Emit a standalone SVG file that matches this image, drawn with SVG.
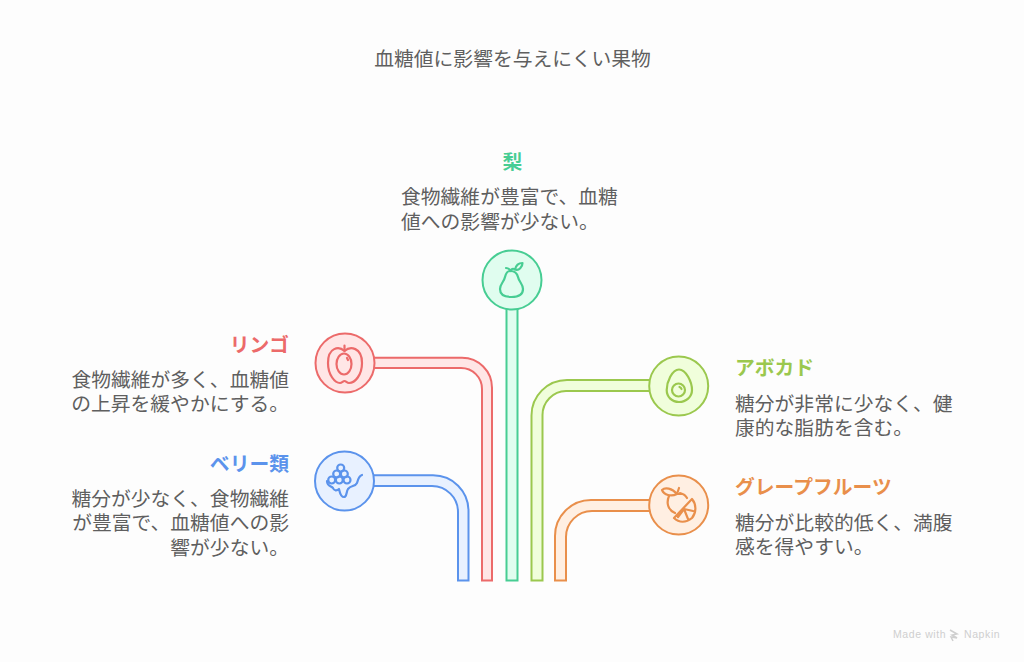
<svg xmlns="http://www.w3.org/2000/svg" width="1024" height="662" viewBox="0 0 1024 662">
<style>
text{font-family:"Noto Sans CJK JP","Noto Sans CJK SC",sans-serif;font-size:19.8px;fill:#5f5f5f}
.t{font-weight:700}
.e{text-anchor:end}
.tube,.dot{stroke-width:2}
.ic{fill:none;stroke-width:2.2;stroke-linecap:round;stroke-linejoin:round}
.red{fill:#ffe6e6;stroke:#ec6a6a}.blue{fill:#e8f1ff;stroke:#5b93ec}.green{fill:#e0fdef;stroke:#47cd93}.lime{fill:#f0fedb;stroke:#9bc84e}.orange{fill:#ffefe2;stroke:#e98f4b}
</style>
<rect width="1024" height="662" fill="#fdfdfd"/>
<text x="512.500" y="66" text-anchor="middle">血糖値に影響を与えにくい果物</text>
<g id="connectors">
<path class="tube red" d="M372 357.700H462A30 30 0 0 1 492 387.700V580.500H482V389A21 21 0 0 0 461 368H372Z"/>
<path class="tube blue" d="M372 475.300H433A35.500 35.500 0 0 1 468.500 510.800V580.500H458V512A26 26 0 0 0 432 486H372Z"/>
<path class="tube green" d="M506.500 305H517.500V580.500H506.500Z"/>
<path class="tube lime" d="M651 380H567A35.500 35.500 0 0 0 531.500 415.500V580.500H542.500V415A24 24 0 0 1 566 391H651Z"/>
<path class="tube orange" d="M651 500H591A36 36 0 0 0 555 536V580.500H566V537A26 26 0 0 1 592 511H651Z"/>
</g>
<g id="node-pear">
<circle class="dot green" cx="512" cy="280" r="29.500"/>
<g class="ic" stroke="#47cd93">
<path d="M510.500 271C507 271 506 273 505 277C504 282 500 284 500 289C500 295 505 297 511.500 297C518 297 523 295 523 289C523 284 519 282 518 277C517 273 514 271 510.500 271Z"/>
<path d="M510.500 271C509.500 269 508 268 506 268M510.500 271C511 269 513 268 515 269.500C516 265 519 263 522.500 263C522.500 267 519 271 515 269.500"/>
</g>
<text class="t" x="512.500" y="169" text-anchor="middle" style="fill:#47cd93">梨</text>
<text x="401" y="204">食物繊維が豊富で、血糖</text>
<text x="401" y="229">値への影響が少ない。</text>
</g>
<g id="node-apple">
<circle class="dot red" cx="345" cy="363" r="29.500"/>
<g class="ic" stroke="#ec6a6a">
<path d="M344.500 351C339 346 328 347 328 363C328 375 335 383 340 383C342 383 343 381 344.500 381C346 381 347 383 349 383C355 383 362 375 362 363C362 347 350 346 344.500 351Z"/>
<ellipse cx="344" cy="364" rx="7.500" ry="10.500"/>
<path d="M344.500 351V345.500M347 358L348 360"/>
</g>
<text class="t e" x="289" y="352" style="fill:#ec6a6a">リンゴ</text>
<text class="e" x="289" y="387">食物繊維が多く、血糖値</text>
<text class="e" x="289" y="411">の上昇を緩やかにする。</text>
</g>
<g id="node-berry">
<circle class="dot blue" cx="344.500" cy="481" r="29.500"/>
<g class="ic" stroke="#5b93ec">
<circle cx="340.700" cy="468" r="3.500"/><circle cx="336.700" cy="474" r="3.500"/><circle cx="344.300" cy="474" r="3.500"/><circle cx="331.700" cy="480" r="3.500"/><circle cx="339.300" cy="480" r="3.500"/><circle cx="347" cy="480" r="3.500"/>
<path d="M327 481C327 486 331 486 333 488C334 491 337 491 339 489C340 492 340 497 344 497C347 497 346 492 348 489C351 485 355 487 357 483C358 479 359 476 362 475"/>
</g>
<text class="t e" x="289" y="471" style="fill:#5b93ec">ベリー類</text>
<text class="e" x="289" y="506">糖分が少なく、食物繊維</text>
<text class="e" x="289" y="530">が豊富で、血糖値への影</text>
<text class="e" x="289" y="555">響が少ない。</text>
</g>
<g id="node-avocado">
<circle class="dot lime" cx="678.700" cy="386" r="29.500"/>
<g class="ic" stroke="#9bc84e">
<path d="M679 369.500C672 369.500 666.700 382 666.700 390C666.700 397 672 402 679 402C686 402 692 397 692 390C692 382 686 369.500 679 369.500Z"/>
<circle cx="678.500" cy="390" r="6.500"/>
<path d="M679.500 387A3 3 0 0 1 681.500 389"/>
</g>
<text class="t" x="735" y="375" style="fill:#9bc84e">アボカド</text>
<text x="735" y="411">糖分が非常に少なく、健</text>
<text x="735" y="435">康的な脂肪を含む。</text>
</g>
<g id="node-grapefruit">
<circle class="dot orange" cx="678.700" cy="505" r="29.500"/>
<g class="ic" stroke="#e98f4b">
<path d="M669 496C666 503 668 510 675 513M680 493C684 494 686 496 687 498"/>
<path d="M662 490C665 487 672 488 677 494C671 497 664 495 662 490ZM677 494L679 488M677 494L682 494"/>
<path d="M674 518L692 499C697 505 696 513 692 518C686 523 679 523 674 518ZM684 509L678 517M684 509L693 511M684 509L688 519"/>
</g>
<text class="t" x="735" y="494" style="fill:#e98f4b">グレープフルーツ</text>
<text x="735" y="530">糖分が比較的低く、満腹</text>
<text x="735" y="554">感を得やすい。</text>
</g>
<g id="watermark">
<text x="893" y="638" style="font-family:'Liberation Sans',sans-serif;font-size:10.500px;fill:#cfcfcf;letter-spacing:.6px">Made with</text>
<path d="M950 630L957 634L952 635L957 638L951 637L953 641" fill="none" stroke="#cfcfcf" stroke-width="1.500"/>
<text x="964" y="638" style="font-family:'Liberation Sans',sans-serif;font-size:10.500px;fill:#cfcfcf;letter-spacing:.6px">Napkin</text>
</g>
</svg>
